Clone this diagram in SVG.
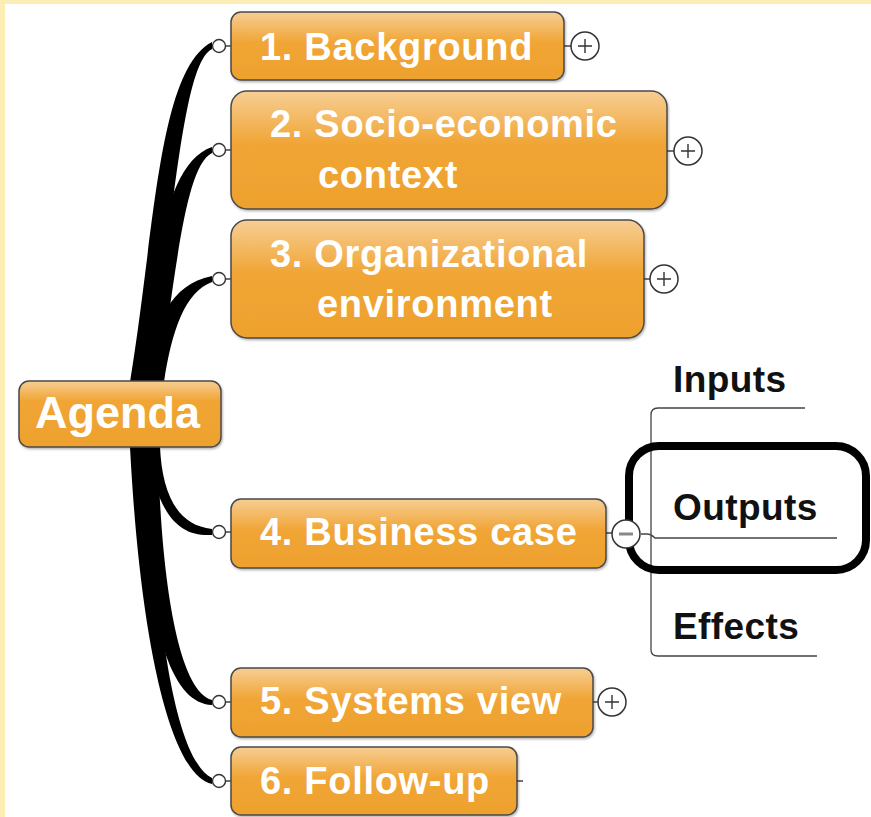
<svg xmlns="http://www.w3.org/2000/svg" width="871" height="817" viewBox="0 0 871 817">
<defs>
<linearGradient id="og" x1="0" y1="0" x2="0" y2="1">
<stop offset="0" stop-color="#F7CE94"/>
<stop offset="0.45" stop-color="#F0A535"/>
<stop offset="1" stop-color="#EEA12D"/>
</linearGradient>
<linearGradient id="og2" x1="0" y1="0" x2="0" y2="1">
<stop offset="0" stop-color="#F7CE94"/>
<stop offset="0.3" stop-color="#F0A535"/>
<stop offset="1" stop-color="#EEA12D"/>
</linearGradient>
<filter id="sh" x="-5%" y="-5%" width="110%" height="120%">
<feDropShadow dx="1" dy="1.5" stdDeviation="1" flood-color="#000" flood-opacity="0.3"/>
</filter>
</defs>
<style>
.box{fill:url(#og);stroke:#4a4a4a;stroke-width:1.5;filter:url(#sh)}
.box2{fill:url(#og2);stroke:#4a4a4a;stroke-width:1.5;filter:url(#sh)}
.t{font-family:"Liberation Sans",Arial,sans-serif;font-weight:bold;font-size:38px;fill:#fff;letter-spacing:0.7px}
.s{font-family:"Liberation Sans",Arial,sans-serif;font-weight:bold;font-size:37px;fill:#111;letter-spacing:0.4px}
.dot{fill:#fff;stroke:#333;stroke-width:1.4}
.ln{stroke:#333;stroke-width:1.4;fill:none}
.btn{fill:#fff;stroke:#333;stroke-width:1.5}
.br{fill:#000}
.thin{stroke:#444;stroke-width:1.3;fill:none}
</style>
<rect x="0" y="0" width="871" height="817" fill="#fff"/>
<rect x="0" y="0" width="871" height="4" fill="#FCEDB5"/>
<rect x="0" y="0" width="5" height="817" fill="#FCEDB5"/>

<g id="connectors">
<path class="br" d="M130,382 C155,230 158,70 212,42 L212,49 C182,64 174,220 148,382 Z"/>
<path class="br" d="M138,382 C155,280 160,165 212,147 L212,153 C183,167 175,290 158,382 Z"/>
<path class="br" d="M146,382 C155,320 170,285 212,276 L212,282 C185,292 172,330 164,382 Z"/>
<path class="br" d="M160,447 C162,490 175,525 212,529 L212,535 C178,537 158,515 146,447 Z"/>
<path class="br" d="M158,447 C160,560 175,690 212,700 L212,705 C168,703 146,620 136,447 Z"/>
<path class="br" d="M150,447 C154,620 175,760 212,778 L212,784 C170,775 140,640 130,447 Z"/>
<path class="thin" d="M658,408 H805 M651,650 V415 Q651,408 658,408 M651,650 Q651,656 658,656 H817 M641,534 H647 Q651,534 655,538 H837"/>
</g>

<g id="agenda">
<rect class="box2" x="19" y="381" width="202" height="66" rx="10"/>
<text class="t" x="35" y="428" style="font-size:45px;letter-spacing:0">Agenda</text>
</g>

<g id="n1">
<line class="ln" x1="225" y1="46" x2="231" y2="46"/>
<circle class="dot" cx="219" cy="46" r="6.5"/>
<rect class="box" x="231" y="12" width="333" height="68" rx="10"/>
<text class="t" x="260" y="60">1. Background</text>
<line class="ln" x1="564" y1="46" x2="571" y2="46"/>
<circle class="btn" cx="585" cy="46" r="14"/>
<path class="ln" d="M578,46 H592 M585,39 V53"/>
</g>

<g id="n2">
<line class="ln" x1="225" y1="150" x2="231" y2="150"/>
<circle class="dot" cx="219" cy="150" r="6.5"/>
<rect class="box" x="231" y="91" width="436" height="118" rx="16"/>
<text class="t" x="270" y="137">2. Socio-economic</text>
<text class="t" x="318" y="188">context</text>
<line class="ln" x1="667" y1="151" x2="674" y2="151"/>
<circle class="btn" cx="688" cy="151" r="14"/>
<path class="ln" d="M681,151 H695 M688,144 V158"/>
</g>

<g id="n3">
<line class="ln" x1="225" y1="279" x2="231" y2="279"/>
<circle class="dot" cx="219" cy="279" r="6.5"/>
<rect class="box" x="231" y="220" width="413" height="118" rx="16"/>
<text class="t" x="270" y="267">3. Organizational</text>
<text class="t" x="317" y="317">environment</text>
<line class="ln" x1="644" y1="279" x2="650" y2="279"/>
<circle class="btn" cx="664" cy="279" r="14"/>
<path class="ln" d="M657,279 H671 M664,272 V286"/>
</g>

<g id="highlight">
<rect x="629" y="446" width="237" height="124" rx="30" fill="none" stroke="#000" stroke-width="8"/>
</g>

<g id="n4">
<line class="ln" x1="225" y1="532" x2="231" y2="532"/>
<circle class="dot" cx="219" cy="532" r="6.5"/>
<rect class="box" x="231" y="499" width="375" height="69" rx="10"/>
<text class="t" x="260" y="545">4. Business case</text>
<line class="ln" x1="606" y1="533" x2="612" y2="533"/>
<circle class="btn" cx="626" cy="534" r="14"/>
<line x1="619" y1="534" x2="633" y2="534" stroke="#888" stroke-width="3"/>
</g>

<g id="inputs"><text class="s" x="673" y="392">Inputs</text></g>
<g id="outputs"><text class="s" x="673" y="520">Outputs</text></g>
<g id="effects"><text class="s" x="673" y="639">Effects</text></g>

<g id="n5">
<line class="ln" x1="225" y1="702" x2="231" y2="702"/>
<circle class="dot" cx="219" cy="702" r="6.5"/>
<rect class="box" x="231" y="668" width="362" height="69" rx="10"/>
<text class="t" x="260" y="714">5. Systems view</text>
<line class="ln" x1="593" y1="702" x2="598" y2="702"/>
<circle class="btn" cx="612" cy="702" r="14"/>
<path class="ln" d="M605,702 H619 M612,695 V709"/>
</g>

<g id="n6">
<line class="ln" x1="225" y1="781" x2="231" y2="781"/>
<circle class="dot" cx="219" cy="781" r="6.5"/>
<rect class="box" x="231" y="747" width="286" height="68" rx="10"/>
<text class="t" x="260" y="794">6. Follow-up</text>
<line class="ln" x1="517" y1="781" x2="523" y2="781"/>
</g>
</svg>
